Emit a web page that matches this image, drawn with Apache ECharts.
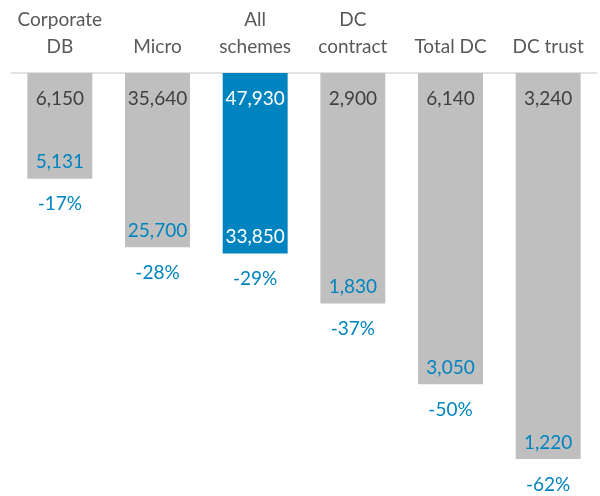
<!DOCTYPE html>
<html>
<head>
<meta charset="utf-8">
<script src="https://cdn.jsdelivr.net/npm/echarts@6/dist/echarts.min.js"></script>
<style>
  html, body { margin: 0; padding: 0; background: #fff; }
  #chart { width: 600px; height: 496px; }
</style>
</head>
<body>
<div id="chart"></div>
<script>
var categories = ['Corporate\nDB', 'Micro', 'All\nschemes', 'DC\ncontract', 'Total DC', 'DC trust'];
var before = [6150, 35640, 47930, 2900, 6140, 3240];
var after = [5131, 25700, 33850, 1830, 3050, 1220];
var change = [-17, -28, -29, -37, -50, -62];
var highlight = 2;

var grey = '#bfbfbf';
var blue = '#0084bf';
var font = 'Lato';

function fmt(n) {
    return n.toLocaleString('en-GB');
}

var chart = echarts.init(document.getElementById('chart'));

var option = {
    animation: false,
    grid: { left: 11, right: 3, top: 73, bottom: 12 },
    xAxis: {
        type: 'category',
        position: 'top',
        data: categories,
        axisLine: { lineStyle: { color: '#d9d9d9', width: 1.5 } },
        axisTick: { show: false },
        axisLabel: {
            color: '#595959',
            fontFamily: font,
            fontSize: 19,
            lineHeight: 27,
            margin: 13,
            interval: 0
        }
    },
    yAxis: {
        type: 'value',
        min: -66,
        max: 0,
        show: false
    },
    series: [
        {
            type: 'bar',
            barWidth: '66.5%',
            data: change.map(function (v, i) {
                return {
                    value: v,
                    itemStyle: { color: i === highlight ? blue : grey }
                };
            }),
            label: {
                show: true,
                position: 'insideTop',
                distance: 16,
                fontFamily: font,
                fontSize: 19,
                formatter: function (p) { return fmt(before[p.dataIndex]); },
                color: '#404040'
            },
            z: 2
        },
        {
            type: 'bar',
            barWidth: '66.5%',
            barGap: '-100%',
            data: change.map(function (v, i) {
                return {
                    value: v,
                    label: { color: i === highlight ? '#ffffff' : blue }
                };
            }),
            itemStyle: { color: 'rgba(0,0,0,0)' },
            label: {
                show: true,
                position: 'insideBottom',
                distance: 7,
                fontFamily: font,
                fontSize: 19,
                formatter: function (p) { return fmt(after[p.dataIndex]); }
            },
            z: 3
        },
        {
            type: 'bar',
            barWidth: '66.5%',
            barGap: '-100%',
            data: change,
            itemStyle: { color: 'rgba(0,0,0,0)' },
            label: {
                show: true,
                position: 'bottom',
                distance: 16,
                fontFamily: font,
                fontSize: 19,
                color: blue,
                formatter: function (p) { return p.value + '%'; }
            },
            z: 3
        }
    ]
};

chart.setOption(option);
// top label for the highlighted bar is white
option.series[0].data[highlight].label = { color: '#ffffff' };
chart.setOption(option);
</script>
</body>
</html>
